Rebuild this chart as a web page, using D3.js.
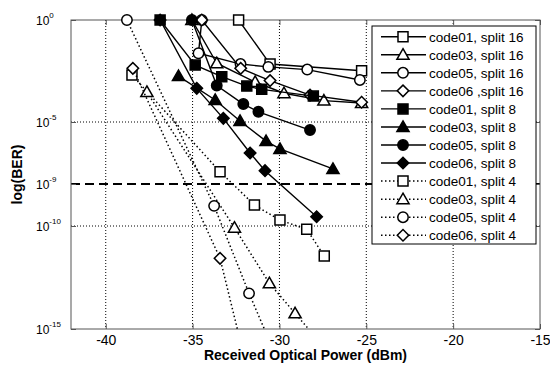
<!DOCTYPE html>
<html>
<head>
<meta charset="utf-8">
<script src="https://cdn.jsdelivr.net/npm/d3@7"></script>
<style>
  body { margin: 0; background: #fff; }
  svg { display: block; }
  text { font-family: Arial, "Liberation Sans", sans-serif; fill: #000; }
</style>
</head>
<body>
<div id="chart"></div>
<script>
// [received power (dBm), log10(BER)]
const code01s16 = [[-32.35, 0], [-30.54, -2.16], [-25.27, -2.49]];
const code03s16 = [[-35.04, 0], [-33.61, -2.12], [-31.40, -3.04], [-29.74, -3.59], [-27.44, -3.95], [-25.27, -4.07]];
const code05s16 = [[-34.47, 0], [-34.66, -1.63], [-32.24, -2.16], [-30.64, -2.30], [-28.40, -2.43], [-25.37, -2.94]];
const code06s16 = [[-34.47, 0], [-32.23, -2.37], [-30.54, -2.97], [-28.24, -3.68], [-25.27, -4.03]];
const code01s8 = [[-36.87, 0], [-34.85, -2.21], [-33.32, -2.78], [-31.88, -3.24], [-31.02, -3.40], [-28.05, -3.73]];
const code03s8 = [[-35.81, -2.75], [-33.70, -3.92], [-32.27, -4.95], [-30.77, -6.23], [-29.97, -6.74], [-26.92, -8.03]];
const code05s8 = [[-35.04, 0], [-33.61, -3.21], [-32.08, -4.12], [-31.21, -4.50], [-28.24, -5.52]];
const code06s8 = [[-36.87, 0], [-34.76, -3.35], [-33.23, -4.82], [-31.69, -7.00], [-30.83, -8.14], [-27.86, -9.78]];
const code01s4 = [[-38.49, -2.70], [-33.42, -8.21], [-31.44, -9.50], [-29.97, -9.86], [-28.43, -10.16], [-27.42, -11.46]];
const code03s4 = [[-37.63, -3.53], [-32.59, -10.08], [-30.58, -12.78], [-29.10, -14.24], [-27.78, -15.53]];
const code05s4 = [[-38.78, 0], [-33.76, -9.52], [-31.75, -13.27], [-30.60, -15.53]];
const code06s4 = [[-38.44, -2.37], [-33.42, -11.57], [-32.27, -15.53]];

const seriesData = [code01s16, code03s16, code05s16, code06s16,
                    code01s8, code03s8, code05s8, code06s8,
                    code01s4, code03s4, code05s4, code06s4];
const seriesNames = ["code01, split 16", "code03, split 16", "code05, split 16", "code06 ,split 16",
                     "code01, split 8", "code03, split 8", "code05, split 8", "code06, split 8",
                     "code01, split 4", "code03, split 4", "code05, split 4", "code06, split 4"];

const xTicks = [-40, -35, -30, -25, -20, -15];
const yTicks = [0, -5, -9, -10, -15];
const yGrid = [-5, -10];
const threshold = -9;

const shapes = ["square", "triangle", "circle", "diamond"];
const width = 550, height = 365;
const m = {left: 71, right: 540, top: 20, bottom: 329};

const x = d3.scaleLinear([-42, -15], [m.left, m.right]);
// the figure's log axis is not evenly spaced, so map each labelled decade
const y = d3.scaleLinear().domain([0, -5, -9, -10, -15]).range([20, 122, 184, 226, 329]);

const svg = d3.select("#chart").append("svg")
  .attr("width", width)
  .attr("height", height);

svg.append("defs").append("clipPath").attr("id", "plot")
  .append("rect").attr("x", m.left).attr("y", m.top)
  .attr("width", m.right - m.left).attr("height", m.bottom - m.top);

// grid
svg.append("g").selectAll("line")
  .data(xTicks.filter(d => d > -42 && d < -15))
  .join("line")
    .attr("x1", d => x(d)).attr("x2", d => x(d))
    .attr("y1", m.top).attr("y2", m.bottom)
    .attr("stroke", "#000").attr("stroke-dasharray", "1,2");
svg.append("g").selectAll("line")
  .data(yGrid)
  .join("line")
    .attr("x1", m.left).attr("x2", m.right)
    .attr("y1", d => y(d)).attr("y2", d => y(d))
    .attr("stroke", "#000").attr("stroke-dasharray", "1,2");

// threshold
svg.append("line")
  .attr("x1", m.left).attr("x2", m.right)
  .attr("y1", y(threshold)).attr("y2", y(threshold))
  .attr("stroke", "#000").attr("stroke-width", 2)
  .attr("stroke-dasharray", "9,5");

// axes with inward ticks
const axisColor = "#555";
svg.append("g")
  .attr("transform", `translate(0,${m.bottom})`)
  .call(d3.axisBottom(x).tickValues(xTicks).tickSize(-5).tickPadding(6).tickFormat(d => String(d)))
  .call(g => g.select(".domain").remove())
  .call(g => g.selectAll("line").attr("stroke", axisColor))
  .call(g => g.selectAll("text").attr("font-size", 14).attr("font-family", null));
svg.append("g")
  .attr("transform", `translate(0,${m.top})`)
  .call(d3.axisTop(x).tickValues(xTicks).tickSize(-5).tickFormat(""))
  .call(g => g.select(".domain").remove())
  .call(g => g.selectAll("line").attr("stroke", axisColor));
svg.append("g")
  .attr("transform", `translate(${m.left},0)`)
  .call(d3.axisLeft(y).tickValues(yTicks).tickSize(-5).tickFormat(""))
  .call(g => g.select(".domain").remove())
  .call(g => g.selectAll("line").attr("stroke", axisColor));
svg.append("g")
  .attr("transform", `translate(${m.right},0)`)
  .call(d3.axisRight(y).tickValues(yTicks).tickSize(-5).tickFormat(""))
  .call(g => g.select(".domain").remove())
  .call(g => g.selectAll("line").attr("stroke", axisColor));

// y tick labels as 10^n
const yLab = svg.append("g").selectAll("text")
  .data(yTicks)
  .join("text")
    .attr("x", 36)
    .attr("y", d => y(d) + 5)
    .attr("font-size", 12);
yLab.append("tspan").text("10");
yLab.append("tspan").attr("dy", -7).attr("font-size", 8).text(d => String(d));

svg.append("rect")
  .attr("x", m.left).attr("y", m.top)
  .attr("width", m.right - m.left).attr("height", m.bottom - m.top)
  .attr("fill", "none").attr("stroke", axisColor);

// axis titles
svg.append("text")
  .attr("x", (m.left + m.right) / 2).attr("y", 360)
  .attr("text-anchor", "middle")
  .attr("font-size", 14).attr("font-weight", "bold")
  .text("Received Optical Power (dBm)");
svg.append("text")
  .attr("transform", `translate(21.5,${(m.top + m.bottom) / 2}) rotate(-90)`)
  .attr("text-anchor", "middle")
  .attr("font-size", 14).attr("font-weight", "bold")
  .text("log(BER)");

function markerPath(shape) {
  switch (shape) {
    case "square": return d3.symbol(d3.symbolSquare, 100)();
    case "triangle": return d3.symbol(d3.symbolTriangle, 64)();
    case "circle": return d3.symbol(d3.symbolCircle, 85)();
    default: return d3.symbol(d3.symbolSquare, 66)();
  }
}
function markerTransform(shape, px, py) {
  if (shape === "diamond") return `translate(${px},${py}) rotate(45)`;
  if (shape === "triangle") return `translate(${px},${py + 1})`;
  return `translate(${px},${py})`;
}

const line = d3.line().x(d => x(d[0])).y(d => y(d[1]));

seriesData.forEach((pts, i) => {
  const shape = shapes[i % 4];
  const filled = i >= 4 && i < 8;
  const dotted = i >= 8;
  const g = svg.append("g");
  g.append("path")
    .attr("d", line(pts))
    .attr("clip-path", "url(#plot)")
    .attr("fill", "none")
    .attr("stroke", "#000")
    .attr("stroke-width", dotted ? 1.5 : 1.4)
    .attr("stroke-dasharray", dotted ? "1.5,2.5" : null);
  g.selectAll("path.m")
    .data(pts.filter(d => d[1] >= -15))
    .join("path")
      .attr("class", "m")
      .attr("d", markerPath(shape))
      .attr("transform", d => markerTransform(shape, x(d[0]), y(d[1])))
      .attr("fill", filled ? "#000" : "#fff")
      .attr("stroke", "#000")
      .attr("stroke-width", 1.5);
});

// legend
const legend = svg.append("g");
legend.append("rect")
  .attr("x", 372).attr("y", 26)
  .attr("width", 164).attr("height", 218)
  .attr("fill", "#fff").attr("stroke", "#000");
const item = legend.selectAll("g")
  .data(seriesNames)
  .join("g")
    .attr("transform", (d, i) => `translate(0,${36.7 + i * 18.05})`);
item.append("line")
  .attr("x1", 381).attr("x2", 426)
  .attr("stroke", "#000")
  .attr("stroke-width", (d, i) => i >= 8 ? 1.5 : 1.4)
  .attr("stroke-dasharray", (d, i) => i >= 8 ? "1.5,2.5" : null);
item.append("path")
  .attr("d", (d, i) => markerPath(shapes[i % 4]))
  .attr("transform", (d, i) => markerTransform(shapes[i % 4], 403, 0))
  .attr("fill", (d, i) => i >= 4 && i < 8 ? "#000" : "#fff")
  .attr("stroke", "#000")
  .attr("stroke-width", 1.5);
item.append("text")
  .attr("x", 429).attr("y", 4.8)
  .attr("font-size", 13.5)
  .text(d => d);
</script>
</body>
</html>
